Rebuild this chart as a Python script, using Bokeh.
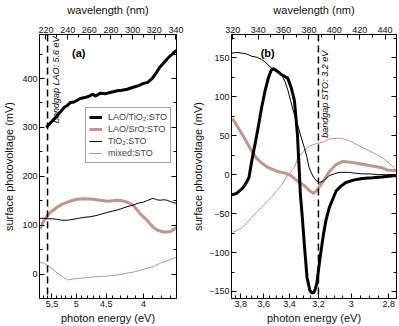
import math
from bokeh.plotting import figure
from bokeh.layouts import row
from bokeh.models import (LinearAxis, FixedTicker, CustomJSTickFormatter, Range1d,
                          Span, Label, Legend, LegendItem)
from bokeh.embed import file_html
from bokeh.resources import INLINE

# ---------------- data: panel (a) (x = wavelength in nm, y = mV) ----------------
a_lao_tio2_wl = [220.4, 224, 228.7, 233, 237, 239.8, 242.5, 246, 251.7, 256, 261, 263, 266, 270,
                 275, 280, 285.8, 290, 295, 300.5, 305, 310, 314, 316, 318, 322, 325, 328, 331.8,
                 335, 339, 340.5]
a_lao_tio2_mv = [300, 309, 320, 331, 341, 345, 351, 352, 359, 361, 365, 368, 364, 370,
                 369, 372, 375, 376, 378, 382, 385, 390, 392, 396, 400, 412, 423, 430, 440,
                 447, 455, 457]

a_lao_sro_wl = [214.5, 217, 219, 221.4, 225, 230.6, 235, 239.8, 245, 249, 255, 263.7, 270, 276.6,
                281, 285.8, 290, 295, 300.5, 303, 306.9, 310, 313.4, 316, 318.9, 322, 325.4, 328,
                331.8, 335, 337.3, 340.5]
a_lao_sro_mv = [92, 105, 112, 120, 128, 137, 143, 147, 151, 153, 154, 153, 151, 149,
                150, 151, 150, 147, 141, 134, 124, 117, 110, 103, 96, 91, 88, 86,
                86, 87, 90, 96]

a_tio2_wl = [214.5, 218, 222, 226, 230, 235, 239.8, 245, 250, 255, 260, 265, 270, 276.6, 282,
             285.8, 290, 295, 300.5, 305, 310, 313, 318.9, 322, 325.4, 329, 331.8, 335, 338, 340.5]
a_tio2_mv = [114, 114, 113, 113, 112, 110, 110, 112, 114, 116, 117, 119, 122, 126, 129,
             131, 134, 138, 141, 145, 147, 150, 155, 152, 151, 152, 151, 148, 146, 145]

a_mixed_wl = [214.5, 218, 221.4, 226, 230.6, 235, 240, 245, 250, 255, 263.7, 270, 276.6, 285.8,
              295, 300.5, 306, 313.4, 320, 325.4, 330, 335, 340.5]
a_mixed_mv = [24, 22, 18, 10, 2, -5, -12, -10, -9, -8, -6, -5, -4, -2,
              2, 4, 7, 12, 16, 22, 26, 30, 35]

# ---------------- data: panel (b) ----------------
b_lao_tio2_wl = [319.2, 323, 327.4, 330, 332.7, 335, 338.1, 340.5, 342.7, 345.5, 348, 350.3, 352,
                 355, 357.9, 361, 363.3, 366, 368.6, 370.9, 372.4, 373.2, 374.8, 376.3, 377.5,
                 378.5, 380.8, 382.5, 383.9, 385, 386.2, 388.5, 391.5, 393.5, 396.1, 401.4, 405,
                 409.1, 415, 422, 430, 437.3, 443, 448.8]
b_lao_tio2_mv = [-26, -24, -18, -12, -4, 18, 44, 65, 86, 108, 124, 134, 136,
                 133, 129, 126, 124, 112, 95, 52, 5, -24, -55, -88, -112,
                 -132, -149, -152, -151, -147, -140, -110, -76, -58, -42, -21, -15,
                 -10, -7, -5, -4, -3, -2, -1]

b_lao_sro_wl = [319.8, 323.6, 327.4, 331.2, 335, 338.8, 342.7, 348, 355.6, 361, 365.6, 370.9,
                376.3, 380.8, 383.9, 386.2, 388.5, 391.5, 396.1, 401.4, 406.8, 412.9, 416.7,
                426.6, 437.3, 441.9, 448.8]
b_lao_sro_mv = [72, 62, 52, 41, 30, 21, 15, 9, 4, 2, -1, -8,
                -14, -21, -24, -20, -15, -8, 4, 13, 17, 16, 15,
                12, 9, 6, 5]

b_tio2_wl = [319.2, 323, 327.4, 331, 335, 338.5, 342.7, 346, 350.3, 353, 355.6, 358.5, 361, 363.5,
             365.6, 368, 370.9, 373.5, 376.3, 378.5, 380.1, 382, 383.9, 386, 388.5, 391.5, 394,
             396.1, 400, 403.7, 411.4, 416, 422, 428, 434.3, 441, 448.8]
b_tio2_mv = [156, 157, 156, 155, 152, 151, 148, 144, 137, 135, 133, 128, 120, 108,
             95, 80, 65, 50, 35, 22, 9, 2, -4, -8, -10, -8, -4,
             -1, 1, 3, 3, 2, 1, 1, 0, 0, 0]

b_mixed_wl = [319.8, 323, 327.4, 331, 335, 338.8, 342.7, 346, 350.3, 354, 358, 363.3, 368.6, 370.9,
              376.3, 380.8, 386.2, 391.5, 396.1, 403.7, 411.4, 422, 431.9, 439.6, 447.2, 448.8]
b_mixed_mv = [-74, -72, -68, -62, -55, -48, -42, -36, -29, -22, -14, -1, 9, 20,
              31, 37, 40, 42, 46, 47, 44, 35, 27, 20, 9, 5]

# ---------------- axes / ticks ----------------
a_wl_ticks = [220, 240, 260, 280, 300, 320, 340]
a_wl_minor = [230, 250, 270, 290, 310, 330]
a_e_ticks = [5.5, 5.0, 4.5, 4.0]
a_e_labels = ["5,5", "5", "4,5", "4"]
a_e_minor = [3.7, 3.8, 3.9, 4.1, 4.2, 4.3, 4.4, 4.6, 4.7, 4.8, 4.9, 5.1, 5.2, 5.3, 5.4, 5.6, 5.7]
a_y_ticks = [0, 100, 200, 300, 400]
a_y_minor = [-50, 50, 150, 250, 350, 450]

b_wl_ticks = [320, 340, 360, 380, 400, 420, 440]
b_wl_minor = [330, 350, 370, 390, 410, 430]
b_e_ticks = [3.8, 3.6, 3.4, 3.2, 3.0, 2.8]
b_e_labels = ["3,8", "3,6", "3,4", "3,2", "3", "2,8"]
b_e_minor = [2.8, 2.85, 2.9, 2.95, 3.05, 3.1, 3.15, 3.25, 3.3, 3.35, 3.45, 3.5, 3.55,
             3.65, 3.7, 3.75, 3.85]
b_y_ticks = [-150, -100, -50, 0, 50, 100, 150]
b_y_minor = [-125, -75, -25, 25, 75, 125, 175]

HC = 1240.0
FONT = "Liberation Sans"
ROSY = "#c29393"
BLACK = "#000000"


def style(ax, labels=True):
    ax.axis_line_color = BLACK
    ax.major_tick_in = 5
    ax.major_tick_out = 0
    ax.minor_tick_in = 3
    ax.minor_tick_out = 0
    ax.major_tick_line_color = BLACK
    ax.minor_tick_line_color = BLACK
    ax.major_label_text_font = FONT
    ax.major_label_text_font_size = "9px"
    ax.major_label_text_color = "#111111"
    ax.major_label_standoff = 2 if labels else 0
    ax.axis_label_text_font = FONT
    ax.axis_label_text_font_size = "11px"
    ax.axis_label_text_font_style = "normal"
    ax.axis_label_text_color = "#111111"
    ax.axis_label_standoff = 2
    if not labels:
        ax.formatter = CustomJSTickFormatter(code="return '';")


def make_panel(width, left_b, right_b, left_lab_standoff, xr, yr,
               wl_t, wl_m, e_t, e_l, e_m, y_t, y_m):
    p = figure(width=width, height=326, x_range=Range1d(*xr), y_range=Range1d(*yr),
               output_backend="svg", toolbar_location=None,
               x_axis_location=None, y_axis_location=None,
               min_border_left=left_b, min_border_right=right_b,
               min_border_top=0, min_border_bottom=0)
    p.xgrid.visible = False
    p.ygrid.visible = False
    p.outline_line_color = BLACK
    p.outline_line_width = 1
    p.background_fill_color = "white"
    p.border_fill_color = "white"

    left = LinearAxis(ticker=FixedTicker(ticks=y_t, minor_ticks=y_m),
                      axis_label="surface photovoltage (mV)")
    style(left)
    left.axis_label_standoff = left_lab_standoff
    p.add_layout(left, "left")
    right = LinearAxis(ticker=FixedTicker(ticks=y_t, minor_ticks=y_m))
    style(right, labels=False)
    p.add_layout(right, "right")

    top = LinearAxis(ticker=FixedTicker(ticks=wl_t, minor_ticks=wl_m),
                     axis_label="wavelength (nm)")
    style(top)
    top.axis_label_standoff = 8
    p.add_layout(top, "above")

    e_pos = [HC / e for e in e_t]
    e_minor_pos = [HC / e for e in e_m]
    bottom = LinearAxis(ticker=FixedTicker(ticks=e_pos, minor_ticks=e_minor_pos),
                        axis_label="photon energy (eV)")
    style(bottom)
    bottom.formatter = CustomJSTickFormatter(
        args=dict(epos=e_pos, elabels=e_l),
        code="const i = epos.findIndex(t => Math.abs(t - tick) < 1e-6); return i >= 0 ? elabels[i] : '';")
    p.add_layout(bottom, "below")
    return p


pa = make_panel(189, 39, 13, 4, (214, 340.5), (-50, 490),
                a_wl_ticks, a_wl_minor, a_e_ticks, a_e_labels, a_e_minor, a_y_ticks, a_y_minor)
pb = make_panel(210, 38, 3, 2, (319, 449), (-159, 180),
                b_wl_ticks, b_wl_minor, b_e_ticks, b_e_labels, b_e_minor, b_y_ticks, b_y_minor)

# panel (a) curves
r1 = pa.line(a_lao_tio2_wl, a_lao_tio2_mv, line_color=BLACK, line_width=3)
r2 = pa.line(a_lao_sro_wl, a_lao_sro_mv, line_color=ROSY, line_width=3)
r3 = pa.line(a_tio2_wl, a_tio2_mv, line_color=BLACK, line_width=1)
r4 = pa.line(a_mixed_wl, a_mixed_mv, line_color=ROSY, line_width=1)

# panel (b) curves
pb.line(b_lao_sro_wl, b_lao_sro_mv, line_color=ROSY, line_width=3)
pb.line(b_mixed_wl, b_mixed_mv, line_color=ROSY, line_width=1)
pb.line(b_lao_tio2_wl, b_lao_tio2_mv, line_color=BLACK, line_width=3)
pb.line(b_tio2_wl, b_tio2_mv, line_color=BLACK, line_width=1)

# bandgap markers
pa.add_layout(Span(location=HC / 5.6, dimension="height", line_color=BLACK,
                   line_dash="7 4", line_width=1.5))
pb.add_layout(Span(location=HC / 3.2, dimension="height", line_color=BLACK,
                   line_dash="7 4", line_width=1.5))

pa.add_layout(Label(x=224.3, y=486, text="bandgap LAO: 5.6 eV", angle=math.pi / 2,
                    text_align="right", text_baseline="top", text_font=FONT,
                    text_font_style="italic", text_font_size="9px", text_color=BLACK))
pb.add_layout(Label(x=389.0, y=159, text="bandgap STO: 3.2 eV", angle=math.pi / 2,
                    text_align="right", text_baseline="top", text_font=FONT,
                    text_font_style="italic", text_font_size="9px", text_color=BLACK))

pa.add_layout(Label(x=244, y=452, text="(a)", text_font=FONT, text_font_style="bold",
                    text_font_size="11px", text_baseline="middle", text_color=BLACK))
pb.add_layout(Label(x=342, y=156, text="(b)", text_font=FONT, text_font_style="bold",
                    text_font_size="11px", text_baseline="middle", text_color=BLACK))

legend = Legend(items=[LegendItem(label="LAO/TiO\u2082:STO", renderers=[r1]),
                       LegendItem(label="LAO/SrO:STO", renderers=[r2]),
                       LegendItem(label="TiO\u2082:STO", renderers=[r3]),
                       LegendItem(label="mixed:STO", renderers=[r4])],
                location=(46, 135))
legend.label_text_font = FONT
legend.label_text_font_size = "9px"
legend.label_height = 12
legend.glyph_height = 12
legend.glyph_width = 13
legend.label_standoff = 6
legend.spacing = 0
legend.padding = 3
legend.margin = 0
legend.border_line_color = "#444444"
legend.border_line_width = 1
legend.background_fill_color = "white"
legend.background_fill_alpha = 1.0
pa.add_layout(legend)

layout = row(pa, pb)
open("out.html", "w").write(file_html(layout, INLINE))
